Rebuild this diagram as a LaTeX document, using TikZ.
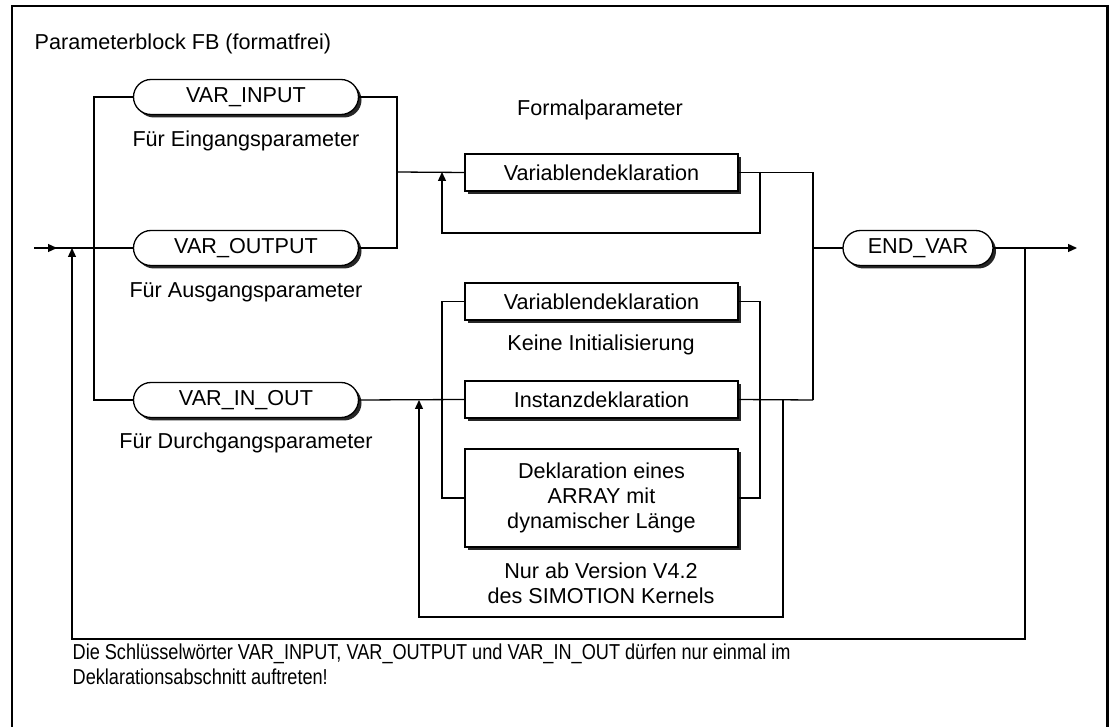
\documentclass[tikz,border=0pt]{standalone}
\usepackage{fontspec}
\setmainfont{Liberation Sans}
\newfontfamily\narrowsans[FakeStretch=0.84]{Liberation Sans}
\usetikzlibrary{arrows.meta,shapes.misc,shadows}

\tikzset{
  boxshadow/.style={drop shadow={shadow xshift=3pt, shadow yshift=-3pt, opacity=1, fill=black!85}},
  term/.style={rounded rectangle, draw, line width=1.3pt, fill=white, minimum height=35pt,
    inner sep=0pt, outer sep=0pt, boxshadow},
  decl/.style={rectangle, draw, line width=1.3pt, fill=white, minimum width=273pt,
    minimum height=37pt, inner sep=0pt, outer sep=0pt, align=center, boxshadow},
  arr/.style={-{Triangle[length=9pt,width=8pt]}},
}

\begin{document}
\begin{tikzpicture}[x=1pt, y=-1pt, line width=1.3pt, font=\fontsize{21.6}{25}\selectfont]
  \useasboundingbox (0,0) rectangle (1112,727);
  % \draw[help lines, gray!50, very thin] (0,0) grid[step=50] (1112,727);

  % frame
  \draw[line width=2pt] (12,728) -- (12,6) -- (1107,6);
  \draw[line width=3pt] (1107,5) -- (1107,728);
  \node[anchor=base west, inner sep=0pt] (title) at (34,50) {Parameterblock FB (formatfrei)};

  % keywords
  \node[term, minimum width=225pt] (vin) at (246,97) {VAR\_INPUT};
  \node[anchor=base, inner sep=0pt] (vinlbl) at (246,147) {Für Eingangsparameter};
  \node[term, minimum width=225pt] (vout) at (246,248) {VAR\_OUTPUT};
  \node[anchor=base, inner sep=0pt] (voutlbl) at (246,298) {Für Ausgangsparameter};
  \node[term, minimum width=225pt] (vio) at (246,400) {VAR\_IN\_OUT};
  \node[anchor=base, inner sep=0pt] (violbl) at (246,449) {Für Durchgangsparameter};
  \node[term, minimum width=150pt] (endv) at (918,248) {END\_VAR};

  % declarations
  \node[anchor=base, inner sep=0pt] (formal) at (600,116) {Formalparameter};
  \node[decl] (decl1) at (601.5,172.5) {Variablendeklaration};
  \node[decl] (decl2) at (601.5,301.5) {Variablendeklaration};
  \node[anchor=base, inner sep=0pt] (noinit) at (601,351) {Keine Initialisierung};
  \node[decl] (inst) at (601.5,399.5) {Instanzdeklaration};
  \node[decl, minimum height=98pt] (dynarr) at (601.5,498) {Deklaration eines\\ARRAY mit\\dynamischer Länge};
  \node[align=center, inner sep=0pt] (version) at (601,583) {Nur ab Version V4.2\\des SIMOTION Kernels};

  % junctions
  \coordinate (entry) at (34,248);
  \coordinate (lsplit) at (94,248);
  \coordinate (rjoin) at (397,172);
  \coordinate (fjoin) at (813,400);
  \coordinate (ljoin) at (442,400);
  \coordinate (rjoin2) at (760,400);
  \coordinate (back) at (1025,248);
  \coordinate (exit) at (1077,248);

  \draw (entry) -- (vout.west);
  \draw[arr] (entry) -- ++(23,0);
  \draw (vin.west) -| (lsplit) |- (vio.west);
  \draw (vin.east) -| (rjoin) |- (vout.east);
  \draw (rjoin) -- (decl1.west);
  \draw[arr] (760,172) |- (442,233) -- (442,172);
  \draw (decl1.east) -| (fjoin);
  \draw (vio.east) -- (inst.west);
  \draw (inst.east) -- (fjoin);
  \draw (decl2.west) -| (ljoin) |- (dynarr.west);
  \draw (decl2.east) -| (rjoin2) |- (dynarr.east);
  \draw[arr] (783,400) |- (419,617) -- (419,400);
  \draw (813,248) -- (endv.west);
  \draw[arr] (endv.east) -- (exit);
  \draw[arr] (back) |- (72,639) -- (72,248);

  \node[anchor=north west, align=left, inner sep=0pt, font=\narrowsans\fontsize{21.6}{25}\selectfont] (note) at (72,643)
    {Die Schlüsselwörter VAR\_INPUT, VAR\_OUTPUT und VAR\_IN\_OUT dürfen nur einmal im\\Deklarationsabschnitt auftreten!};
\end{tikzpicture}
\end{document}
